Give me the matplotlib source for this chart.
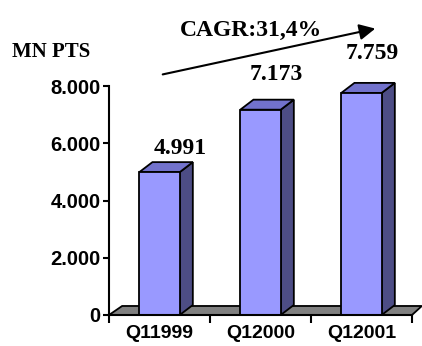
import matplotlib
matplotlib.use('Agg')
import matplotlib.pyplot as plt
from matplotlib.patches import Polygon
from matplotlib.ticker import FuncFormatter

quarters = ["Q11999", "Q12000", "Q12001"]
points_mn = [4991, 7173, 7759]
value_labels = ["4.991", "7.173", "7.759"]
cagr_label = "CAGR:31,4%"
unit_label = "MN PTS"

FRONT = "#9999FF"
TOP = "#7272CC"
SIDE = "#4D4D85"
FLOOR = "#808080"

fig = plt.figure(figsize=(4.22, 3.46), dpi=100)
ax = fig.add_axes([0.2583, 0.0896, 0.718, 0.6618])

bar_w = 0.4
# pseudo-3D depth in data units
dx, dy = 0.13, 350

ax.set_xlim(-0.5, 2.5)
ax.set_ylim(0, 8000)

# grey floor under the bars
floor = Polygon([(-0.5, 0), (2.5, 0), (2.5 + dx * 0.75, dy * 0.9), (-0.5 + dx, dy * 0.9)],
                closed=True, facecolor=FLOOR, edgecolor="black", lw=1.3,
                clip_on=False, zorder=1)
ax.add_patch(floor)

for i, v in enumerate(points_mn):
    x0, x1 = i - bar_w / 2, i + bar_w / 2
    side = Polygon([(x1, 0), (x1 + dx, dy), (x1 + dx, v + dy), (x1, v)],
                   closed=True, facecolor=SIDE, edgecolor="black", lw=1.3,
                   clip_on=False, zorder=2)
    top = Polygon([(x0, v), (x0 + dx, v + dy), (x1 + dx, v + dy), (x1, v)],
                  closed=True, facecolor=TOP, edgecolor="black", lw=1.3,
                  clip_on=False, zorder=2)
    ax.add_patch(side)
    ax.add_patch(top)

ax.bar(range(len(points_mn)), points_mn, width=bar_w, color=FRONT,
       edgecolor="black", linewidth=1.3, zorder=3, clip_on=False)

# value labels above each bar
offsets = [(15, 17), (11, 25), (8, 28.5)]
for i, (v, lab) in enumerate(zip(points_mn, value_labels)):
    ax.annotate(lab, xy=(i, v), xytext=offsets[i], textcoords="offset points",
                ha="center", va="center", fontsize=17, fontweight="bold",
                family="Liberation Serif", annotation_clip=False)

for s in ["top", "right"]:
    ax.spines[s].set_visible(False)
for s in ["left", "bottom"]:
    ax.spines[s].set_linewidth(1.5)
    ax.spines[s].set_zorder(4)

ax.set_yticks([0, 2000, 4000, 6000, 8000])
ax.yaxis.set_major_formatter(FuncFormatter(lambda v, p: f"{int(v):,}".replace(",", ".")))
ax.tick_params(axis="y", length=4, width=1.5, pad=2)

ax.set_xticks(range(len(quarters)))
ax.set_xticklabels(quarters)
ax.set_xticks([-0.5, 0.5, 1.5, 2.5], minor=True)
ax.tick_params(axis="x", which="major", length=0, pad=7.5)
ax.tick_params(axis="x", which="minor", length=6, width=1.5)

for lab in ax.get_yticklabels():
    lab.set_family("Liberation Sans")
    lab.set_fontweight("bold")
    lab.set_fontsize(14.5)
for lab in ax.get_xticklabels():
    lab.set_family("Liberation Sans")
    lab.set_fontweight("bold")
    lab.set_fontsize(14)

# growth arrow and headings
ax.annotate("", xy=(378, 318), xytext=(160, 271), xycoords="figure pixels",
            textcoords="figure pixels",
            arrowprops=dict(arrowstyle="-|>", lw=1.5, color="black", mutation_scale=24))
fig.text(180 / 422, 310 / 346, cagr_label, ha="left", va="baseline",
         fontsize=17, fontweight="bold", family="Liberation Serif")
fig.text(12 / 422, 289 / 346, unit_label, ha="left", va="baseline",
         fontsize=15, fontweight="bold", family="Liberation Serif")

fig.savefig("out.png", dpi=100)
